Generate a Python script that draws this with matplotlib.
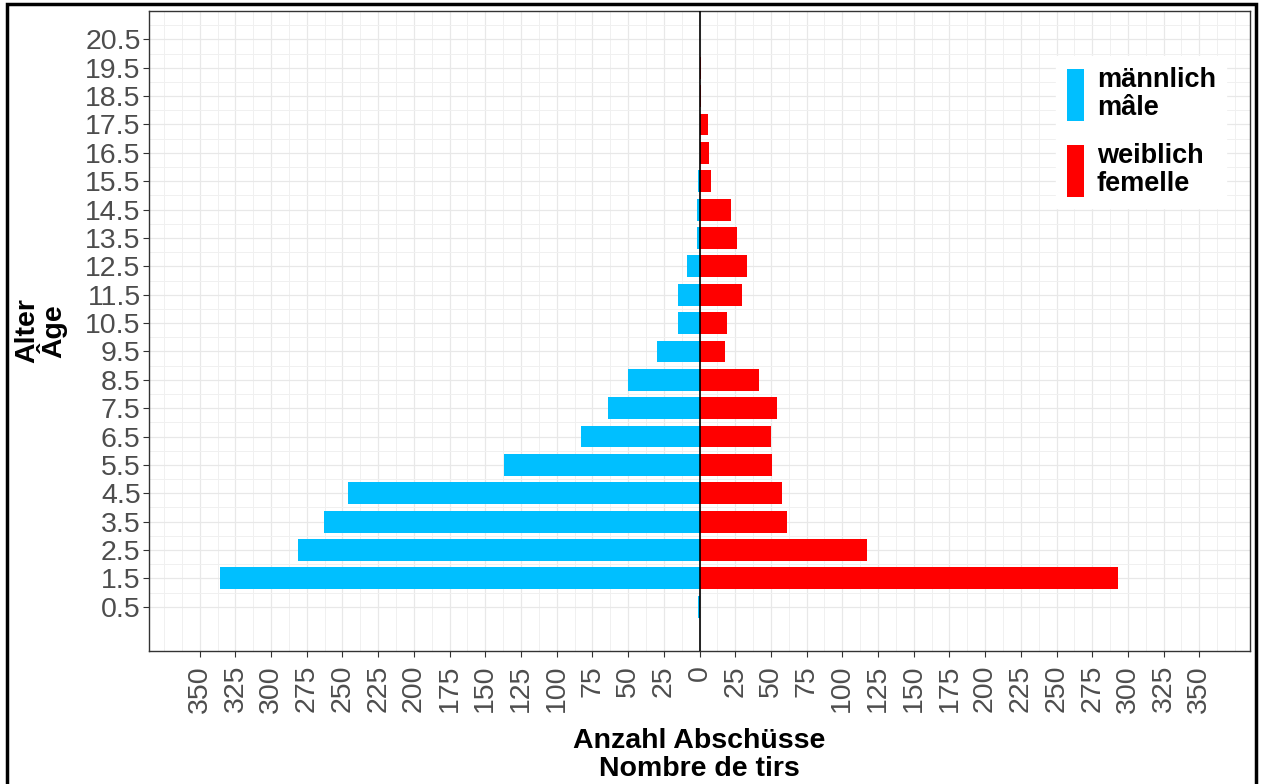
import matplotlib
matplotlib.use("Agg")
import matplotlib.pyplot as plt
from matplotlib.patches import Patch, Rectangle
from matplotlib.ticker import MultipleLocator
import numpy as np

plt.rcParams['font.family'] = ['Liberation Sans', 'DejaVu Sans']

ages = [0.5, 1.5, 2.5, 3.5, 4.5, 5.5, 6.5, 7.5, 8.5, 9.5, 10.5,
        11.5, 12.5, 13.5, 14.5, 15.5, 16.5, 17.5, 18.5, 19.5, 20.5]
male = [1, 336, 281, 263, 246, 137, 83, 64, 50, 30, 15,
        15, 9, 2, 2, 1, 0, 0, 0, 0, 0]
female = [0, 293, 117, 61, 58, 51, 50, 54, 42, 18, 19,
          30, 33, 26, 22, 8, 7, 6, 1, 1, 0]
x_ticks = list(range(-350, 351, 25))
x_labels = [str(abs(v)) for v in x_ticks]
y_labels = [f"{a:.1f}" for a in ages]

male_label = "männlich\nmâle"
female_label = "weiblich\nfemelle"
x_title = "Anzahl Abschüsse\nNombre de tirs"
y_title = "Alter\nÂge"

blue = "#00BFFF"
red = "#FF0000"

W, H = 1263, 784
fig = plt.figure(figsize=(W / 100, H / 100), dpi=100)
ax = fig.add_axes([149 / W, 1 - 651 / H, (1250 - 149) / W, (651 - 11) / H])

ax.barh(ages, [-m for m in male], height=0.77, color=blue, zorder=2)
ax.barh(ages, female, height=0.77, color=red, zorder=2)
ax.axvline(0, color="black", lw=1.2, zorder=3)

ax.set_xlim(-385.5, 385.5)
ax.set_ylim(-1.06, 21.5)
ax.set_xticks(x_ticks)
ax.set_xticklabels(x_labels, rotation=90, fontsize=20.5, color="#4d4d4d")
ax.set_yticks(ages)
ax.set_yticklabels(y_labels, fontsize=20.5, color="#4d4d4d")
ax.xaxis.set_minor_locator(MultipleLocator(12.5))
ax.set_yticks(np.arange(1.0, 21.01, 1.0), minor=True)
ax.tick_params(which="minor", length=0)
ax.tick_params(which="major", length=4, width=0.8, color="#333333", pad=2)
ax.tick_params(axis="x", which="major", pad=6)
ax.grid(True, which="major", color="#e8e8e8", lw=0.9, zorder=0)
ax.grid(True, which="minor", color="#f0f0f0", lw=0.7, zorder=0)
ax.set_axisbelow(True)
for s in ax.spines.values():
    s.set_color("#333333")
    s.set_linewidth(1.0)

ax.set_xlabel(x_title, fontsize=20.5, fontweight="bold", labelpad=11, linespacing=1.12)
ax.set_ylabel(y_title, fontsize=20.5, fontweight="bold", labelpad=13, linespacing=0.85)

handles = [Patch(facecolor=blue, edgecolor="none"), Patch(facecolor=red, edgecolor="none")]
leg = ax.legend(handles, [male_label, female_label], loc="upper left",
                bbox_to_anchor=(0.8238, 0.93), frameon=True, fancybox=False,
                prop={"size": 19.5, "weight": "bold"}, handlelength=0.65,
                handleheight=2.58, handletextpad=0.45, labelspacing=0.78,
                borderpad=0.4, borderaxespad=0)
for t in leg.get_texts():
    t.set_linespacing(1.1)
leg.get_frame().set_facecolor("white")
leg.get_frame().set_edgecolor("white")
leg.get_frame().set_alpha(1)

fig.patches.append(Rectangle((7 / W, -0.02), (1256 - 7) / W, 1 + 0.02 - 4 / H,
                             transform=fig.transFigure, fill=False,
                             edgecolor="black", linewidth=2.5))

fig.savefig("out.png", dpi=100)
